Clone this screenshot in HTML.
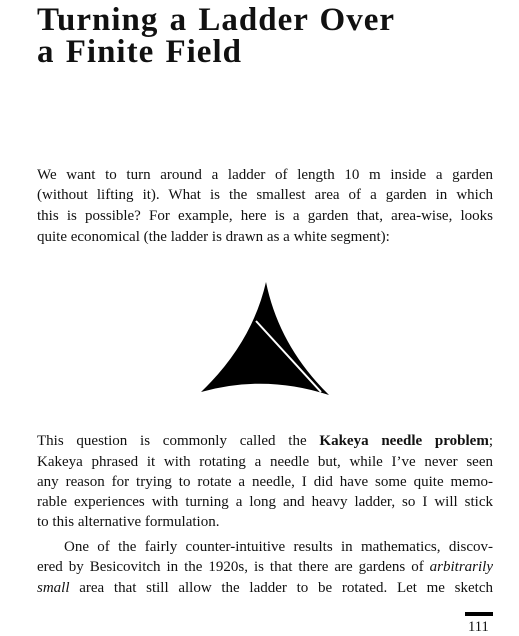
<!DOCTYPE html>
<html><head><meta charset="utf-8"><style>
body{margin:0;width:519px;height:635px;background:#fff;position:relative;overflow:hidden;font-family:"Liberation Serif",serif;color:#111}
.t{position:absolute;left:37px;font-weight:bold;font-size:33px;letter-spacing:1px;word-spacing:2px;line-height:32px;white-space:nowrap}
.l{position:absolute;left:37px;width:456px;font-size:15px;line-height:18px;text-align:justify;text-align-last:justify;white-space:nowrap}
.l.e{text-align-last:left}
</style></head><body>
<div class="t" style="top:4px">Turning a Ladder Over</div>
<div class="t" style="top:36px">a Finite Field</div>
<div>
<div class="l" style="top:166px">We want to turn around a ladder of length 10 m inside a garden</div>
<div class="l" style="top:186px">(without lifting it). What is the smallest area of a garden in which</div>
<div class="l" style="top:207px">this is possible? For example, here is a garden that, area-wise, looks</div>
<div class="l e" style="top:228px">quite economical (the ladder is drawn as a white segment):</div>
</div>
<svg style="position:absolute;left:0;top:0" width="519" height="635">
<path d="M266,282 Q252,343 201,392 Q265,374 329,395 Q279,346 266,282 Z" fill="#000"/>
<line x1="256" y1="321" x2="321" y2="392" stroke="#fff" stroke-width="2"/>
</svg>
<div>
<div class="l" style="top:432px">This question is commonly called the <b>Kakeya needle problem</b>;</div>
<div class="l" style="top:453px">Kakeya phrased it with rotating a needle but, while I’ve never seen</div>
<div class="l" style="top:473px">any reason for trying to rotate a needle, I did have some quite memo-</div>
<div class="l" style="top:493px">rable experiences with turning a long and heavy ladder, so I will stick</div>
<div class="l e" style="top:513px">to this alternative formulation.</div>
</div>
<div>
<div class="l" style="top:538px;left:64px;width:429px">One of the fairly counter-intuitive results in mathematics, discov-</div>
<div class="l" style="top:558px">ered by Besicovitch in the 1920s, is that there are gardens of <i>arbitrarily</i></div>
<div class="l" style="top:579px"><i>small</i> area that still allow the ladder to be rotated. Let me sketch</div>
</div>
<div style="position:absolute;left:465px;top:612px;width:28px;height:4px;background:#000"></div>
<div style="position:absolute;left:468px;top:619px;font-size:14.6px">111</div>
</body></html>
